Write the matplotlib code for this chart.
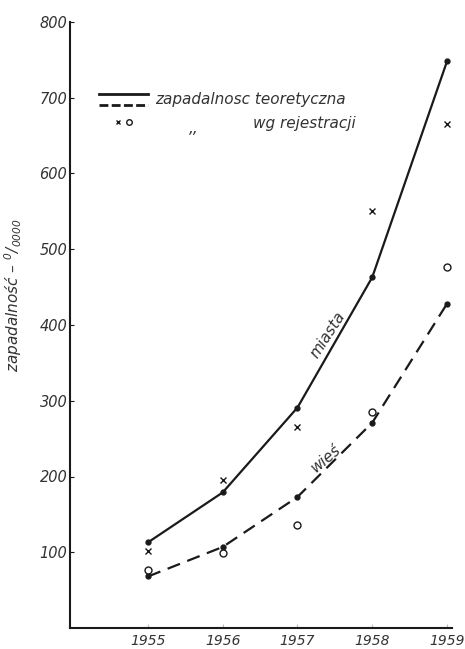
import matplotlib.pyplot as plt
from matplotlib.lines import Line2D

years = [1955, 1956, 1957, 1958, 1959]
miasta_teor = [113, 179, 291, 463, 748]
miasta_rej = [101, 196, 265, 550, 666]
wies_teor = [68, 107, 173, 271, 428]
wies_rej = [77, 99, 136, 285, 477]
y_ticks = [100, 200, 300, 400, 500, 600, 700, 800]

ink = '#1a1a1a'
txt = '#333333'
plt.rcParams['font.family'] = ['DejaVu Sans']
plt.rcParams['font.style'] = 'italic'

fig = plt.figure(figsize=(4.65, 6.49), dpi=100)
ax = fig.add_axes([70 / 465, 1 - 628 / 649, 382 / 465, 606 / 649])

ax.plot(years, miasta_teor, color=ink, lw=1.6, marker='o', ms=3.5)
ax.plot(years, wies_teor, color=ink, lw=1.6, ls=(0, (6, 3.5)), marker='o', ms=3.5)
ax.plot(years, miasta_rej, ls='none', marker='x', ms=4, mew=1.0, color=ink)
ax.plot(years, wies_rej, ls='none', marker='o', ms=5, mfc='white', mec=ink, mew=1.0)

ax.set_xlim(1953.957, 1959.067)
ax.set_ylim(0, 800)
ax.set_xticks(years)
ax.set_yticks(y_ticks)
ax.spines['top'].set_visible(False)
ax.spines['right'].set_visible(False)
for s in ('left', 'bottom'):
    ax.spines[s].set_color(ink)
    ax.spines[s].set_linewidth(1.5)
ax.tick_params(axis='both', direction='in', length=3, width=0.8, colors=ink,
               labelcolor=txt, labelsize=10.5)
ax.tick_params(axis='y', pad=2)
ax.tick_params(axis='x', pad=4, color='#bbbbbb', labelsize=10)

ax.set_ylabel('zapadalność – $^{0}/_{0000}$', fontsize=11, color=txt)
ax.yaxis.set_label_coords(-0.12, 0.55)

# legend drawn by hand
ax.add_line(Line2D([1954.35, 1955.0], [705, 705], color=ink, lw=2.0))
ax.add_line(Line2D([1954.35, 1955.0], [691, 691], color=ink, lw=2.0, ls=(0, (3.2, 1.2))))
ax.text(1955.1, 698, 'zapadalnosc teoretyczna', fontsize=11, color=txt, va='center')
ax.plot([1954.6], [668], marker='x', ms=3.5, color=ink, mew=1.0)
ax.plot([1954.75], [668], marker='o', ms=4, mfc='white', mec=ink, mew=1.0)
ax.text(1955.55, 660, ',,', fontsize=11, color=txt, va='center')
ax.text(1956.4, 666, 'wg rejestracji', fontsize=11, color=txt, va='center')

ax.text(1957.41, 387, 'miasta', fontsize=11, color=txt, rotation=57,
        ha='center', va='center')
ax.text(1957.38, 224, 'wieś', fontsize=11, color=txt, rotation=40,
        ha='center', va='center')

fig.savefig('out.png', dpi=100)
